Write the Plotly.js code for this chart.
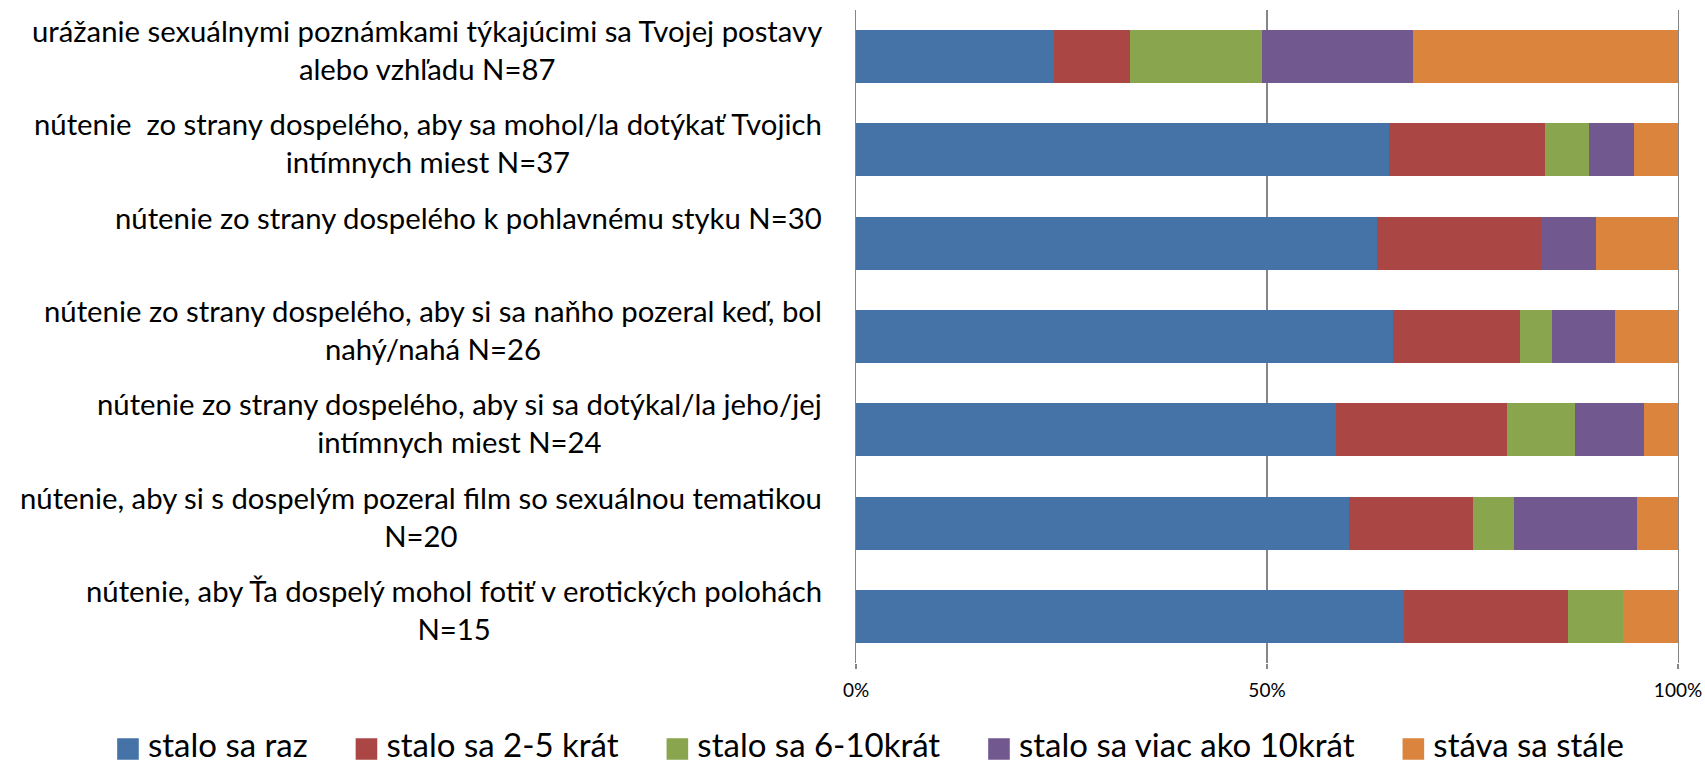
<!DOCTYPE html>
<html>
<head>
<meta charset="utf-8">
<script src="https://cdn.plot.ly/plotly-3.0.1.min.js"></script>
<style>
  html, body { margin: 0; padding: 0; background: #fff; }
  #wrap { width: 1705px; height: 765px; overflow: hidden; position: relative; }
  #chart { width: 1705px; height: 790px; }
</style>
</head>
<body>
<div id="wrap"><div id="chart"></div></div>
<script>
// Categories (top to bottom)
var categories = [
  "urážanie sexuálnymi poznámkami týkajúcimi sa Tvojej postavy<br>alebo vzhľadu N=87",
  "nútenie \u00a0zo strany dospelého, aby sa mohol/la dotýkať Tvojich<br>intímnych miest N=37",
  "nútenie zo strany dospelého k pohlavnému styku N=30<br>\u00a0",
  "nútenie zo strany dospelého, aby si sa naňho pozeral keď, bol<br>nahý/nahá N=26",
  "nútenie zo strany dospelého, aby si sa dotýkal/la jeho/jej<br>intímnych miest N=24",
  "nútenie, aby si s dospelým pozeral film so sexuálnou tematikou<br>N=20",
  "nútenie, aby Ťa dospelý mohol fotiť v erotických polohách<br>N=15"
];

// Series names
var seriesNames = ["stalo sa raz", "stalo sa 2-5 krát", "stalo sa 6-10krát", "stalo sa viac ako 10krát", "stáva sa stále"];

// Counts per category (normalised to 100 % by the library)
var staloRaz   = [21, 24, 19, 17, 14, 12, 10];
var stalo2_5   = [8, 7, 6, 4, 5, 3, 3];
var stalo6_10  = [14, 2, 0, 1, 2, 1, 1];
var viacAko10  = [16, 2, 2, 2, 2, 3, 0];
var stavaStale = [28, 2, 3, 2, 1, 1, 1];

var xTickVals = [0, 50, 100];
var xTickText = ["0%", "50%", "100%"];

var colors = ["#4572A7", "#AA4643", "#89A54E", "#71588F", "#DB843D"];
var seriesValues = [staloRaz, stalo2_5, stalo6_10, viacAko10, stavaStale];

var FONT = "Lato, 'Open Sans', sans-serif";
var GRID = '#868686';
var LEGEND_PAD = '\u00a0\u00a0\u00a0\u00a0';

var traces = seriesValues.map(function (vals, i) {
  return {
    type: 'bar',
    orientation: 'h',
    name: seriesNames[i] + (i < seriesValues.length - 1 ? LEGEND_PAD : ''),
    y: categories,
    x: vals,
    marker: { color: colors[i], line: { width: 0 } },
    hoverinfo: 'name+x'
  };
});

var annotations = categories.map(function (c) {
  return {
    xref: 'paper', yref: 'y',
    x: 0, y: c,
    xanchor: 'right', yanchor: 'middle',
    xshift: -32, yshift: 7,
    align: 'center',
    showarrow: false,
    text: c,
    font: { family: FONT, size: 29.3, color: '#000' }
  };
});

var layout = {
  width: 1705, height: 790,
  margin: { l: 856, r: 27, t: 10, b: 127, pad: 0 },
  barmode: 'stack',
  barnorm: 'percent',
  bargap: 0.432,
  paper_bgcolor: '#ffffff',
  plot_bgcolor: '#ffffff',
  font: { family: FONT, color: '#000' },
  showlegend: true,
  xaxis: {
    range: [0, 100],
    tickmode: 'array',
    tickvals: xTickVals,
    ticktext: xTickText,
    showgrid: true,
    gridcolor: GRID,
    gridwidth: 1.3,
    zeroline: false,
    showline: false,
    ticks: 'outside',
    ticklen: 5,
    tickwidth: 1.3,
    tickcolor: GRID,
    ticklabelstandoff: 5,
    tickfont: { family: FONT, size: 19, color: '#000' }
  },
  yaxis: {
    autorange: 'reversed',
    showticklabels: false,
    showgrid: false,
    zeroline: false,
    showline: true,
    mirror: true,
    linecolor: GRID,
    linewidth: 1.3,
    ticks: ''
  },
  legend: {
    orientation: 'h',
    traceorder: 'normal',
    xref: 'paper', x: -0.91, xanchor: 'left',
    yref: 'paper', y: -0.1248, yanchor: 'middle',
    font: { family: FONT, size: 33, color: '#000' },
    bgcolor: 'rgba(0,0,0,0)'
  },
  annotations: annotations
};

Plotly.newPlot('chart', traces, layout, { displayModeBar: false, staticPlot: true }).then(function (gd) {
  // enlarge the legend colour squares (Excel-style), slightly lowered
  gd.querySelectorAll('.legend .legendpoints path').forEach(function (p) {
    p.setAttribute('d', 'M10.8,15.3H-10.8V-6.3H10.8Z');
  });
});
</script>
</body>
</html>
